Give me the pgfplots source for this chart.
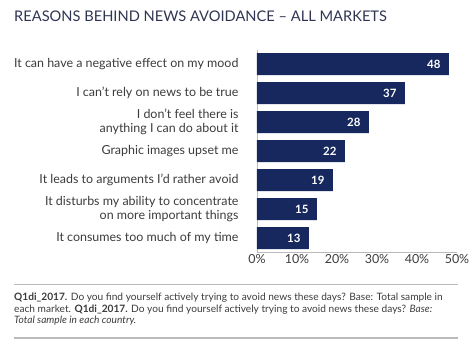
\documentclass[border=0pt]{standalone}
\usepackage{pgfplots}
\pgfplotsset{compat=1.18}
\usepackage{fontspec}
\setmainfont{Lato}
\definecolor{barblue}{HTML}{17285E}
\definecolor{titlecol}{HTML}{2F3452}
\definecolor{labcol}{HTML}{3C3C3C}
\definecolor{axcol}{HTML}{BBBBBB}
\begin{document}
\begin{tikzpicture}[x=1bp,y=1bp]
\useasboundingbox (-257,-89) rectangle (217,252);
\begin{axis}[
  at={(0,0)}, anchor=south west,
  scale only axis, width=200bp, height=202bp,
  xbar, bar width=22bp,
  xmin=0, xmax=50, ymin=-0.483, ymax=6.483,
  axis x line*=bottom, axis y line*=left,
  axis line style={axcol, line width=0.8pt},
  xtick={0,10,...,50},
  xticklabel={\pgfmathprintnumber{\tick}\%},
  xticklabel style={font=\fontsize{12.5}{14}\selectfont, text=labcol, yshift=1bp},
  /pgf/number format/assume math mode=true,
  major tick length=0pt,
  ytick={0,...,6},
  yticklabels={It consumes too much of my time,
    {It disturbs my ability to concentrate\\on more important things},
    It leads to arguments I’d rather avoid,
    Graphic images upset me,
    {I don’t feel there is\\anything I can do about it},
    I can’t rely on news to be true,
    It can have a negative effect on my mood},
  yticklabel style={font=\fontsize{12.5}{13.5}\selectfont, text=labcol, align=right, xshift=-15bp},
  nodes near coords,
  nodes near coords style={font=\bfseries\fontsize{11.5}{12}\selectfont, text=white, anchor=east, xshift=-5bp},
  point meta=x,
]
\addplot[fill=barblue, draw=none] coordinates {(13,0) (15,1) (19,2) (22,3) (28,4) (37,5) (48,6)};
\end{axis}
\node[anchor=west, text=titlecol, font=\fontsize{14.7}{16}\selectfont, inner sep=0pt] at (-243,236) {REASONS BEHIND NEWS AVOIDANCE – ALL MARKETS};
\draw[axcol, line width=0.8pt] (-243,-32) -- (201,-32);
\node[anchor=north west, text=labcol, font=\fontsize{10.2}{11.6}\selectfont, align=left, inner sep=0pt] at (-243,-41)
  {\textbf{Q1di\_2017.} Do you find yourself actively trying to avoid news these days? Base: Total sample in\\
   each market. \textbf{Q1di\_2017.} Do you find yourself actively trying to avoid news these days? \textit{Base:}\\
   \textit{Total sample in each country.}};
\draw[axcol, line width=1.6pt] (-243,-86) -- (201,-86);
\end{tikzpicture}
\end{document}
